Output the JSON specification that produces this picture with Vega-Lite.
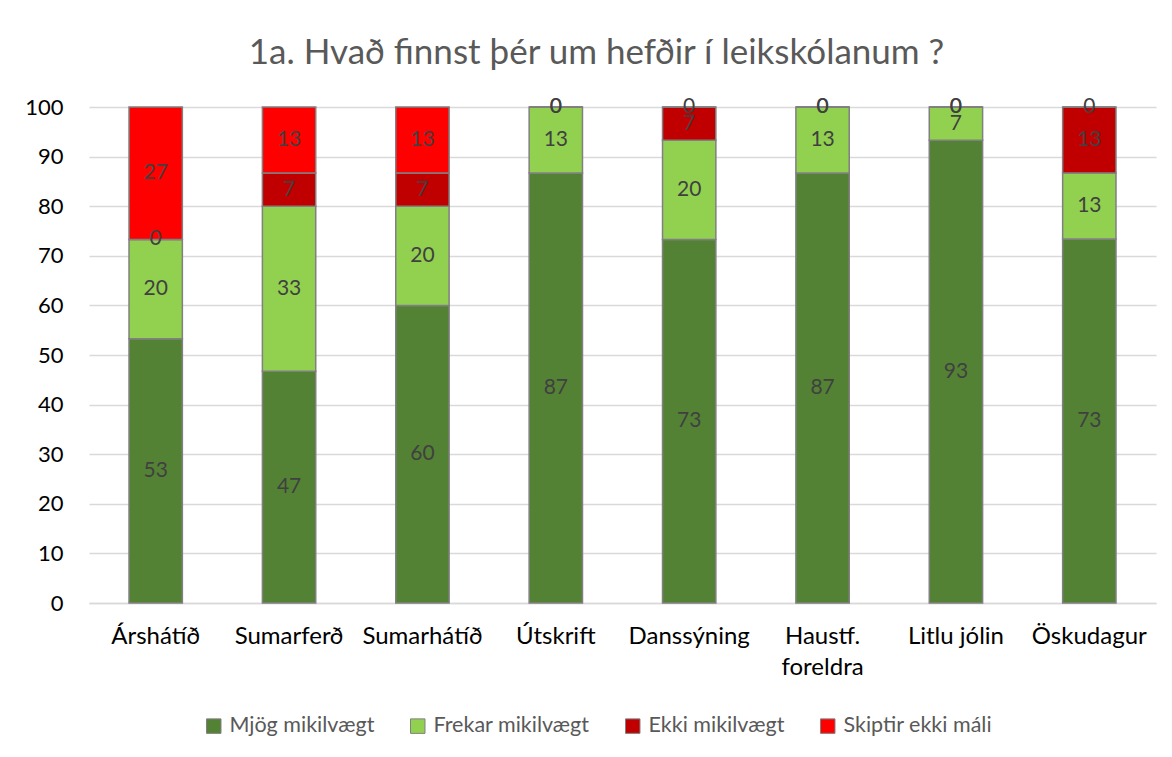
{
  "$schema": "https://vega.github.io/schema/vega-lite/v6.json",
  "autosize": {"type": "none"},
  "width": 1067,
  "height": 496,
  "padding": {"left": 89, "top": 107, "right": 16, "bottom": 154},
  "background": "white",
  "title": {
    "text": "1a. Hvað finnst þér um hefðir í leikskólanum ?",
    "fontSize": 35,
    "font": "Lato",
    "fontWeight": "normal",
    "color": "#595959",
    "anchor": "middle",
    "dx": -26,
    "offset": 25
  },
  "data": {
    "values": [
      {"cat": "Árshátíð", "series": "Mjög mikilvægt", "k": 1, "value": 53.3},
      {"cat": "Árshátíð", "series": "Frekar mikilvægt", "k": 2, "value": 20},
      {"cat": "Árshátíð", "series": "Ekki mikilvægt", "k": 3, "value": 0},
      {"cat": "Árshátíð", "series": "Skiptir ekki máli", "k": 4, "value": 26.7},
      {"cat": "Sumarferð", "series": "Mjög mikilvægt", "k": 1, "value": 46.7},
      {"cat": "Sumarferð", "series": "Frekar mikilvægt", "k": 2, "value": 33.3},
      {"cat": "Sumarferð", "series": "Ekki mikilvægt", "k": 3, "value": 6.7},
      {"cat": "Sumarferð", "series": "Skiptir ekki máli", "k": 4, "value": 13.3},
      {"cat": "Sumarhátíð", "series": "Mjög mikilvægt", "k": 1, "value": 60},
      {"cat": "Sumarhátíð", "series": "Frekar mikilvægt", "k": 2, "value": 20},
      {"cat": "Sumarhátíð", "series": "Ekki mikilvægt", "k": 3, "value": 6.7},
      {"cat": "Sumarhátíð", "series": "Skiptir ekki máli", "k": 4, "value": 13.3},
      {"cat": "Útskrift", "series": "Mjög mikilvægt", "k": 1, "value": 86.7},
      {"cat": "Útskrift", "series": "Frekar mikilvægt", "k": 2, "value": 13.3},
      {"cat": "Útskrift", "series": "Ekki mikilvægt", "k": 3, "value": 0},
      {"cat": "Útskrift", "series": "Skiptir ekki máli", "k": 4, "value": 0},
      {"cat": "Danssýning", "series": "Mjög mikilvægt", "k": 1, "value": 73.3},
      {"cat": "Danssýning", "series": "Frekar mikilvægt", "k": 2, "value": 20},
      {"cat": "Danssýning", "series": "Ekki mikilvægt", "k": 3, "value": 6.7},
      {"cat": "Danssýning", "series": "Skiptir ekki máli", "k": 4, "value": 0},
      {"cat": "Haustf. foreldra", "series": "Mjög mikilvægt", "k": 1, "value": 86.7},
      {"cat": "Haustf. foreldra", "series": "Frekar mikilvægt", "k": 2, "value": 13.3},
      {"cat": "Haustf. foreldra", "series": "Ekki mikilvægt", "k": 3, "value": 0},
      {"cat": "Haustf. foreldra", "series": "Skiptir ekki máli", "k": 4, "value": 0},
      {"cat": "Litlu jólin", "series": "Mjög mikilvægt", "k": 1, "value": 93.3},
      {"cat": "Litlu jólin", "series": "Frekar mikilvægt", "k": 2, "value": 6.7},
      {"cat": "Litlu jólin", "series": "Ekki mikilvægt", "k": 3, "value": 0},
      {"cat": "Litlu jólin", "series": "Skiptir ekki máli", "k": 4, "value": 0},
      {"cat": "Öskudagur", "series": "Mjög mikilvægt", "k": 1, "value": 73.4},
      {"cat": "Öskudagur", "series": "Frekar mikilvægt", "k": 2, "value": 13.3},
      {"cat": "Öskudagur", "series": "Ekki mikilvægt", "k": 3, "value": 13.3},
      {"cat": "Öskudagur", "series": "Skiptir ekki máli", "k": 4, "value": 0}
    ]
  },
  "transform": [
    {"stack": "value", "groupby": ["cat"], "sort": [{"field": "k", "order": "ascending"}], "as": ["y0", "y1"]},
    {"calculate": "(datum.y0 + datum.y1) / 2", "as": "ymid"}
  ],
  "encoding": {
    "x": {
      "field": "cat",
      "type": "nominal",
      "sort": null,
      "title": null,
      "scale": {"paddingInner": 0.6, "paddingOuter": 0.3},
      "axis": {
        "labelAngle": 0,
        "labelFontSize": 24,
        "labelFont": "Lato",
        "labelColor": "#000000",
        "labelPadding": 21,
        "labelLineHeight": 31,
        "labelExpr": "datum.label == 'Haustf. foreldra' ? ['Haustf.', 'foreldra'] : datum.label",
        "ticks": false,
        "domain": true,
        "domainColor": "#d9d9d9",
        "domainWidth": 1.5,
        "grid": false
      }
    }
  },
  "layer": [
    {
      "mark": {"type": "bar", "stroke": "#808080", "strokeWidth": 1.5},
      "encoding": {
        "y": {
          "field": "y0",
          "type": "quantitative",
          "title": null,
          "scale": {"domain": [0, 100], "nice": false},
          "axis": {
            "values": [0, 10, 20, 30, 40, 50, 60, 70, 80, 90, 100],
            "labelFontSize": 22,
            "labelFont": "Lato",
            "labelColor": "#000000",
            "labelPadding": 26,
            "ticks": false,
            "domain": false,
            "grid": true,
            "gridColor": "#d9d9d9",
            "gridWidth": 1.5
          }
        },
        "y2": {"field": "y1"},
        "color": {
          "field": "series",
          "type": "nominal",
          "scale": {
            "domain": ["Mjög mikilvægt", "Frekar mikilvægt", "Ekki mikilvægt", "Skiptir ekki máli"],
            "range": ["#548235", "#92D050", "#C00000", "#FF0000"]
          },
          "legend": {
            "title": null,
            "orient": "none",
            "legendX": 114,
            "legendY": 608,
            "direction": "horizontal",
            "symbolType": "square",
            "symbolSize": 210,
            "symbolStrokeColor": "#808080",
            "symbolStrokeWidth": 1,
            "symbolOpacity": 1,
            "labelFontSize": 21.5,
            "labelFont": "Lato",
            "labelColor": "#595959",
            "labelOffset": 5,
            "columnPadding": 32
          }
        }
      }
    },
    {
      "mark": {"type": "text", "fontSize": 21, "font": "Lato", "color": "#404040", "baseline": "middle", "align": "center"},
      "encoding": {
        "y": {"field": "ymid", "type": "quantitative"},
        "text": {"field": "value", "type": "quantitative", "format": ".0f"}
      }
    }
  ],
  "config": {
    "view": {"stroke": null}
  }
}
